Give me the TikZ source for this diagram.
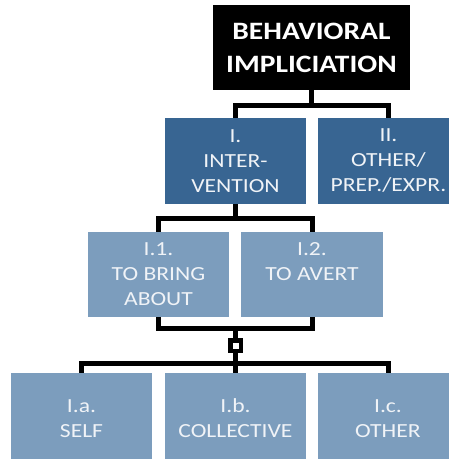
\documentclass[tikz,border=0pt]{standalone}
\usepackage{fontspec}
\setmainfont{Carlito}[FakeStretch=1.18]
\definecolor{dkblue}{RGB}{56,101,146}
\definecolor{ltblue}{RGB}{124,157,189}
\definecolor{boxtext}{RGB}{240,243,247}
\begin{document}
\begin{tikzpicture}[x=1pt,y=-1pt,
  box/.style={minimum width=141pt, inner sep=0pt, align=center,
    text=boxtext, font=\fontsize{20}{25}\selectfont},
  % a tall first line pushes the three-line labels a little lower
  lowered/.style={execute at begin node={\rule{0pt}{19pt}}},
  darkbox/.style={box, lowered, fill=dkblue, minimum height=86pt},
  lightbox/.style={box, fill=ltblue, minimum height=85pt},
  topbox/.style={fill=black, text=white, align=center, inner sep=0pt,
    minimum width=197pt, minimum height=85pt,
    font=\bfseries\fontsize{25}{33}\selectfont},
  link/.style={line width=5pt, line join=miter},
  junction/.style={draw, fill=white, line width=4.5pt, minimum size=10.5pt,
    inner sep=0pt}]
\useasboundingbox (0,0) rectangle (449,459);
\clip (0,0) rectangle (449,459);

% boxes
\node[topbox] (top) at (311.5,47.5) {BEHAVIORAL\\IMPLICIATION};
\node[darkbox] (I)  at (235.5,161) {I.\\INTER-\\VENTION};
\node[darkbox] (II) at (388.5,161) {II.\\OTHER/\\PREP./EXPR.};
\node[lightbox, lowered, minimum width=141pt] (I1) at (158.5,274.5) {I.1.\\TO BRING\\ABOUT};
\node[lightbox, lowered, minimum width=142pt] (I2) at (312,274.5) {I.2.\\TO AVERT\\~};
\node[lightbox, minimum height=91pt] (Ia) at (81.5,418.5) {I.a.\\SELF};
\node[lightbox, minimum height=91pt] (Ib) at (235.5,418.5) {I.b.\\COLLECTIVE};
\node[lightbox, minimum height=91pt] (Ic) at (388,418.5) {I.c.\\OTHER};

% bus levels
\coordinate (b1) at (0,105);
\coordinate (b2) at (0,218);
\coordinate (b3) at (0,328);
\coordinate (b4) at (0,363);
\coordinate (jc) at (235.5,345.5);

% connectors
\draw[link] (top.south) -- (top.south |- b1);
\draw[link] (I.north) -- (I.north |- b1) -- (II.north |- b1) -- (II.north);
\draw[link] (I.south) -- (I.south |- b2);
\draw[link] (I1.north) -- (I1.north |- b2) -- (I2.north |- b2) -- (I2.north);
\draw[link] (I1.south) -- (I1.south |- b3) -- (I2.south |- b3) -- (I2.south);
\draw[link] (jc |- b3) -- (jc) -- (jc |- b4);
\draw[link] (Ia.north) -- (Ia.north |- b4) -- (Ic.north |- b4) -- (Ic.north);
\draw[link] (Ib.north) -- (Ib.north |- b4);
\node[junction] (jn) at (jc) {};
\end{tikzpicture}
\end{document}
